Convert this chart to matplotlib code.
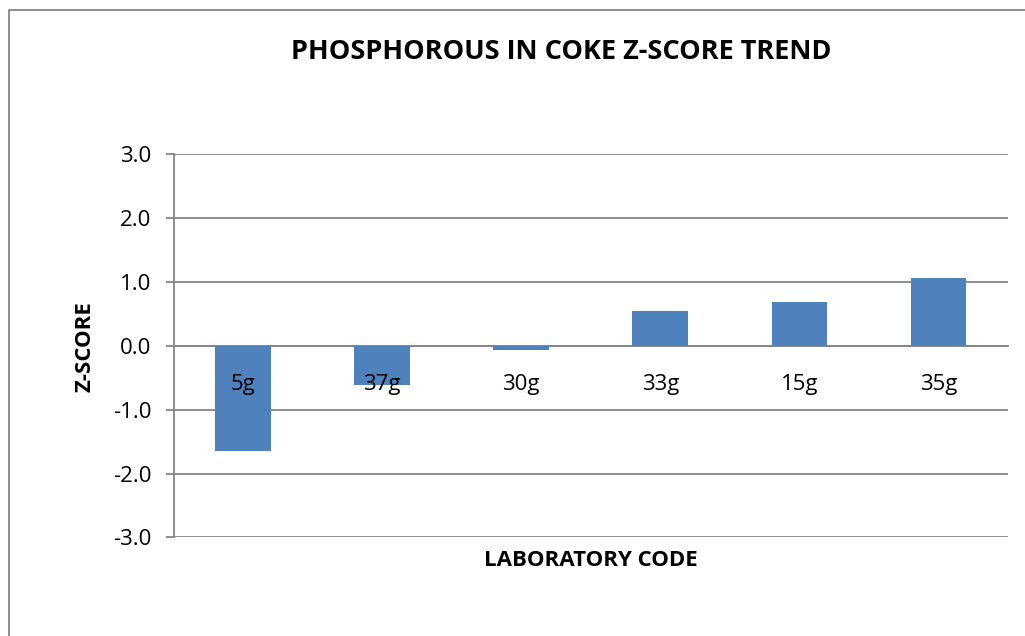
import numpy as np
import matplotlib.pyplot as plt
from matplotlib.lines import Line2D
from matplotlib.transforms import offset_copy

# Data
labs = ['5g', '37g', '30g', '33g', '15g', '35g']
zscores = [-1.65, -0.61, -0.06, 0.55, 0.68, 1.07]
yticks = [-3.0, -2.0, -1.0, 0.0, 1.0, 2.0, 3.0]

plt.rcParams['font.family'] = ['Open Sans', 'DejaVu Sans']

fig = plt.figure(figsize=(10.25, 6.36), dpi=100)
ax = fig.add_axes([0.1693, 0.1549, 0.9834 - 0.1693, 0.7574 - 0.1549])

grey = '#868686'
x = np.arange(len(labs))
ax.bar(x, zscores, width=0.4, color='#4F81BD', zorder=3)

ax.set_xlim(-0.5, len(labs) - 0.5)
ax.set_ylim(-3, 3)
ax.set_yticks(yticks)
ax.set_yticklabels(['%.1f' % v for v in yticks])
ax.yaxis.grid(True, color=grey, lw=1.3)
ax.set_axisbelow(True)
ax.set_xticks([])
ax.tick_params(axis='y', length=6, width=1.3, color=grey, pad=10, labelsize=16)

# category labels sit just under the zero line, on top of the bars
trans = offset_copy(ax.transData, fig=fig, y=-39, units='dots')
for i, lab in enumerate(labs):
    ax.text(x[i], 0, lab, transform=trans, ha='center', va='center',
            fontsize=16, zorder=5)

for s in ['top', 'right']:
    ax.spines[s].set_visible(False)
ax.spines['left'].set_color(grey)
ax.spines['left'].set_linewidth(1.3)
ax.spines['bottom'].set_position(('data', 0))
ax.spines['bottom'].set_color(grey)
ax.spines['bottom'].set_linewidth(1.3)

fig.text(561 / 1025, 1 - 52 / 636, 'PHOSPHOROUS IN COKE Z-SCORE TREND',
         ha='center', va='center', fontsize=19.5, fontweight='bold')
fig.text(591 / 1025, 1 - 560 / 636, 'LABORATORY CODE',
         ha='center', va='center', fontsize=16, fontweight='bold')
fig.text(85 / 1025, 1 - 347 / 636, 'Z-SCORE', rotation=90,
         ha='center', va='center', fontsize=16, fontweight='bold')

# outer chart border (left and top visible)
fig.add_artist(Line2D([9 / 1025, 9 / 1025, 1.0], [0.0, 1 - 10 / 636, 1 - 10 / 636],
                      color=grey, lw=1.3, transform=fig.transFigure))

fig.savefig('out.png', dpi=100)
